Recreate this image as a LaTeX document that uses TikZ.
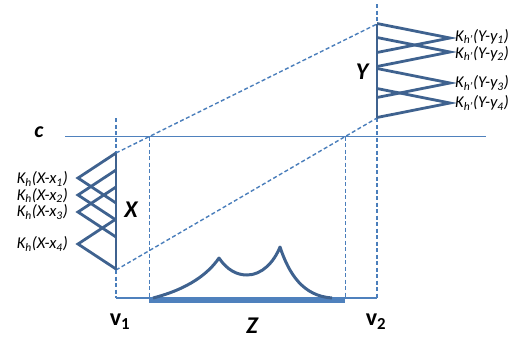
\documentclass[tikz,border=0pt]{standalone}
\usepackage{fontspec}
\setmainfont{Carlito}
\usetikzlibrary{calc}
\definecolor{kern}{HTML}{3F628F}
\definecolor{guidec}{HTML}{4A7EBB}
\definecolor{basec}{HTML}{4F81BD}
\begin{document}
\begin{tikzpicture}[x=1pt,y=-1pt,
  kernline/.style={draw=kern, line width=2.8pt, line join=miter},
  guide/.style={draw=guidec, line width=1.4pt, dash pattern=on 4pt off 2.5pt},
  cline/.style={draw=basec, line width=1.3pt},
  thinbase/.style={draw=basec, line width=1.8pt},
  thickbase/.style={draw=basec, line width=6pt},
  klab/.style={font=\fontsize{16.5}{18}\selectfont\itshape, inner sep=0pt},
  biglab/.style={font=\fontsize{24}{28}\selectfont\bfseries\itshape, inner sep=0pt},
  vlab/.style={font=\fontsize{24}{28}\selectfont\bfseries, inner sep=0pt}
]
\useasboundingbox (0,0) rectangle (519,341);
% key points
\coordinate (xt) at (116,153);
\coordinate (xb) at (116,270);
\coordinate (yt) at (377,24);
\coordinate (yb) at (377,118);
\coordinate (cl) at (65,136.5);
\coordinate (cr) at (486,136.5);
\coordinate (v1t) at (116,118);
\coordinate (v2t) at (377,4);
\coordinate (b1) at (116,298);
\coordinate (b2) at (377,298);
\coordinate (ca) at (intersection of xt--yt and cl--cr);
\coordinate (cb) at (intersection of xb--yb and cl--cr);
\coordinate (za) at (ca |- b1);
\coordinate (zb) at (cb |- b1);
% c line
\draw[cline] (cl) -- (cr);
\node[biglab, font=\fontsize{22}{26}\selectfont\bfseries\itshape] (clab) at (39,132) {c};
% guides
\draw[guide] (v1t) -- (xt);
\draw[guide] (xb) -- (b1);
\draw[guide] (v2t) -- (yt);
\draw[guide] (yb) -- (b2);
\draw[guide] (xt) -- (yt);
\draw[guide] (xb) -- (yb);
\draw[guide] (ca) -- (za);
\draw[guide] (cb) -- (zb);
% baseline
\draw[thinbase] (b1) -- (za);
\draw[thinbase] (zb) -- (b2);
\draw[thickbase] ($(za)+(0,2)$) -- ($(zb)+(0,2)$);
% Z density
\draw[kernline, line width=3pt, line join=round]
  (153,298) .. controls (188,289) and (208,274) .. (219,258)
  .. controls (227,270) and (237,275) .. (247,275)
  .. controls (262,275) and (274,262) .. (280,247)
  .. controls (289,274) and (303,296) .. (332,298);
% X axis and kernels
\draw[kernline] (xt) -- (xb);
\coordinate (xa1) at (78,178);
\coordinate (xa2) at (78,195);
\coordinate (xa3) at (78,212);
\coordinate (xa4) at (78,244);
\foreach \i in {1,...,4}{
  \draw[kernline] ($(xa\i)+(38,-25)$) -- (xa\i) -- ($(xa\i)+(38,25)$);
}
\node[klab, anchor=east] (kx1) at (68,179) {K\textsubscript{h}(X-x\textsubscript{1})};
\node[klab, anchor=east] (kx2) at (68,195.5) {K\textsubscript{h}(X-x\textsubscript{2})};
\node[klab, anchor=east] (kx3) at (68,212) {K\textsubscript{h}(X-x\textsubscript{3})};
\node[klab, anchor=east] (kx4) at (68,244) {K\textsubscript{h}(X-x\textsubscript{4})};
\node[biglab] (xlab) at (131,210) {X};
% Y axis and kernels
\draw[kernline] (yt) -- (yb);
\coordinate (ya1) at (450,38);
\coordinate (ya2) at (450,52);
\coordinate (ya3) at (450,83);
\coordinate (ya4) at (450,103);
\foreach \i in {1,...,4}{
  \draw[kernline] ($(ya\i)+(-73,-14.5)$) -- (ya\i) -- ($(ya\i)+(-73,14.5)$);
}
\node[klab, anchor=west] (ky1) at (455,36.5) {K\textsubscript{h’}(Y-y\textsubscript{1})};
\node[klab, anchor=west] (ky2) at (455,53.5) {K\textsubscript{h’}(Y-y\textsubscript{2})};
\node[klab, anchor=west] (ky3) at (455,83) {K\textsubscript{h’}(Y-y\textsubscript{3})};
\node[klab, anchor=west] (ky4) at (455,103) {K\textsubscript{h’}(Y-y\textsubscript{4})};
\node[biglab] (ylab) at (362,72) {Y};
% bottom labels
\node[vlab] (v1lab) at (120,322) {v\textsubscript{1}};
\node[vlab] (v2lab) at (376,322) {v\textsubscript{2}};
\node[biglab] (zlab) at (252,326) {Z};
\end{tikzpicture}
\end{document}
